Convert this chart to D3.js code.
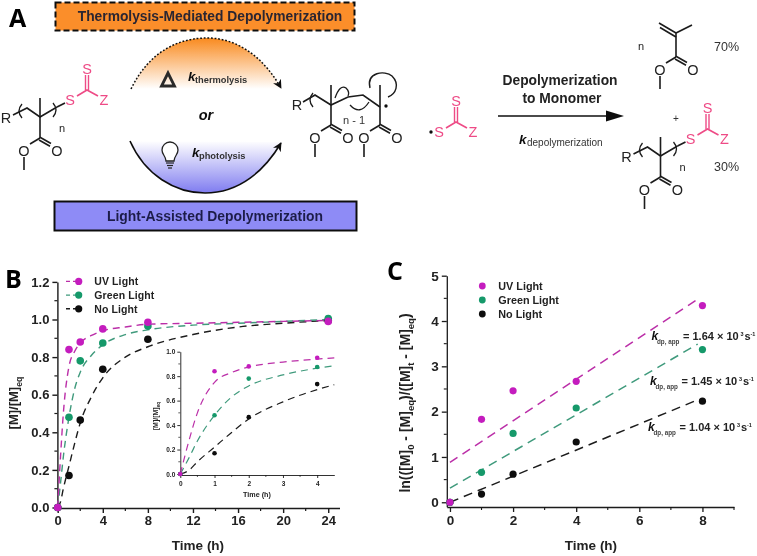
<!DOCTYPE html>
<html><head><meta charset="utf-8">
<script src="https://cdn.jsdelivr.net/npm/d3@7"></script>
<style>
html,body{margin:0;padding:0;background:#fff}
svg{display:block}
text{font-family:"Liberation Sans",Arial,sans-serif;fill:#222}
</style></head><body>
<svg id="c" width="757" height="556"></svg>
<script>
// ---- Data ----
const seriesNames = ["UV Light","Green Light","No Light"];
const seriesColors = ["#c41fbe","#13996b","#0b0b0b"];
const lineColors = ["#bb2fa8","#3f9a7c","#1c1c1c"];

const timeB = [0,1,2,4,8,24];
const uvB = [0,0.84,0.88,0.95,0.985,0.99];
const greenB = [0,0.48,0.78,0.875,0.965,1.005];
const noneB = [0,0.17,0.465,0.735,0.895,0.995];

const fitTime = [0,0.25,0.5,1,1.5,2,3,4,6,8,12,16,20,24];
const fitUv = [0,0.27,0.5,0.75,0.83,0.875,0.915,0.94,0.96,0.975,0.98,0.985,0.99,0.995];
const fitGreen = [0,0.13,0.27,0.48,0.63,0.72,0.81,0.865,0.92,0.945,0.97,0.98,0.99,1.0];
const fitNone = [0,0.03,0.1,0.22,0.34,0.45,0.59,0.69,0.8,0.855,0.92,0.96,0.98,0.995];

const insetTime = [0,1,2,4];
const insetFitTime = [0,0.25,0.5,1,1.5,2,3,4,4.5];
const insetFitUv = [0,0.27,0.5,0.75,0.83,0.875,0.915,0.94,0.95];
const insetFitGreen = [0,0.13,0.27,0.48,0.63,0.72,0.81,0.865,0.885];
const insetFitNone = [0,0.03,0.1,0.22,0.34,0.45,0.59,0.69,0.73];
const ticksB = [0,4,8,12,16,20,24];
const ticksBY = [0,0.2,0.4,0.6,0.8,1.0,1.2];
const ticksInsetX = [0,1,2,3,4];
const ticksInsetY = [0,0.2,0.4,0.6,0.8,1.0];

const timeC = [0,1,2,4,8];
const uvC = [0,1.83,2.46,2.67,4.34];
const greenC = [0,0.66,1.52,2.08,3.37];
const noneC = [0,0.18,0.62,1.33,2.23];
const fitTimeC = [0,7.85];
const fitUvC = [0.88,4.48];
const fitGreenC = [0.31,3.49];
const fitNoneC = [0,2.26];
const ticksCX = [0,2,4,6,8];
const ticksCY = [0,1,2,3,4,5];
const rateLabels = ["= 1.64 × 10","= 1.45 × 10","= 1.04 × 10"];

// ---- Setup ----
const svg = d3.select("#c");
const defs = svg.append("defs");
const blur = defs.append("filter").attr("id","soft").attr("x",0).attr("y",0).attr("width","100%").attr("height","100%");
blur.append("feGaussianBlur").attr("stdDeviation",0.42);
const gradO = defs.append("linearGradient").attr("id","go").attr("x1",0).attr("x2",0).attr("y1",0).attr("y2",1);
gradO.append("stop").attr("offset","0%").attr("stop-color","#f98a1e");
gradO.append("stop").attr("offset","100%").attr("stop-color","#ffffff");
const gradP = defs.append("linearGradient").attr("id","gp").attr("x1",0).attr("x2",0).attr("y1",0).attr("y2",1);
gradP.append("stop").attr("offset","0%").attr("stop-color","#ffffff");
gradP.append("stop").attr("offset","100%").attr("stop-color","#7f7cf0");
defs.append("marker").attr("id","ah").attr("viewBox","0 0 10 10").attr("refX",9).attr("refY",5)
  .attr("markerWidth",9).attr("markerHeight",9).attr("markerUnits","userSpaceOnUse").attr("orient","auto")
  .append("path").attr("d","M0,0L10,5L0,10L3,5Z").attr("fill","#111");
const root = svg.append("g").attr("filter","url(#soft)");
root.append("rect").attr("width",757).attr("height",556).attr("fill","#fff");

function txt(p,x,y,s,o={}){
  const t=p.append("text").attr("x",x).attr("y",y).text(s)
    .attr("font-size",o.size||13).attr("font-weight",o.weight||"normal");
  if(o.anchor)t.attr("text-anchor",o.anchor);
  if(o.style)t.attr("font-style",o.style);
  if(o.fill)t.style("fill",o.fill);
  if(o.family)t.style("font-family",o.family);
  return t;
}
function seg(p,pts,col="#1a1a1a",w=1.6){
  return p.append("path").attr("d",d3.line()(pts)).attr("fill","none").attr("stroke",col).attr("stroke-width",w);
}

// ---- Panel letters ----
const letter={size:25,weight:"bold",fill:"#000",family:"'Open Sans','Liberation Sans',sans-serif"};
txt(root,9,27,"A",letter);
txt(root,5,288,"B",letter);
txt(root,387,280,"C",letter);

// ---- Scheme ----
const sch=root.append("g");
sch.append("rect").attr("x",55.5).attr("y",2.5).attr("width",299).attr("height",28)
  .attr("fill","#fb8e2c").attr("stroke","#111").attr("stroke-width",2).attr("stroke-dasharray","6,3");
txt(sch,210,20.5,"Thermolysis-Mediated Depolymerization",{size:13.8,weight:"bold",anchor:"middle",fill:"#2b2530"});
sch.append("rect").attr("x",54.5).attr("y",201.5).attr("width",302).attr("height",29)
  .attr("fill","#8e8bf6").attr("stroke","#111").attr("stroke-width",2);
txt(sch,215,221,"Light-Assisted Depolymerization",{size:13.9,weight:"bold",anchor:"middle",fill:"#1f1f4a"});

sch.append("path").attr("d","M131,89C150,50 180,38 207,38C240,38 265,60 282,89Z").attr("fill","url(#go)");
sch.append("path").attr("d","M131,89C150,50 180,38 207,38C240,38 265,60 281,88")
  .attr("fill","none").attr("stroke","#111").attr("stroke-width",1.5).attr("stroke-dasharray","1.8,1.8").attr("marker-end","url(#ah)");
sch.append("path").attr("d","M130,141C145,175 175,193 205,193C240,193 265,170 282,142Z").attr("fill","url(#gp)");
sch.append("path").attr("d","M130,141C145,175 175,193 205,193C240,193 265,170 281,143")
  .attr("fill","none").attr("stroke","#111").attr("stroke-width",1.6).attr("marker-end","url(#ah)");

sch.append("path").attr("d","M168,73L161.5,86H174.5Z").attr("fill","none").attr("stroke","#2a2a2a").attr("stroke-width",2.8);
function kLabel(x,y,sub,size){
  txt(sch,x,y,"k",{size:13.5,weight:"bold",style:"italic",fill:"#111"});
  txt(sch,x+7,y+2,sub,{size:size||9,weight:"bold",fill:"#333"});
}
kLabel(188,81,"thermolysis",9.3);
kLabel(192,157,"photolysis",9.3);
txt(sch,206,120,"or",{size:14.5,weight:"bold",style:"italic",anchor:"middle",fill:"#111"});
// light bulb
sch.append("path").attr("d","M166,161C166,156 162,155 162,150A8,8 0 1 1 178,150C178,155 174,156 174,161Z")
  .attr("fill","#fff").attr("stroke","#222").attr("stroke-width",1.3);
[163,165.5,168].forEach((y,i)=>seg(sch,[[166+i,y],[174-i,y]],"#222",1.2));

const pink="#ee4b86";
function atom(x,y,s,col,size){
  txt(sch,x,y+5,s,{size:size||14.5,anchor:"middle",fill:col||"#222"});
}
function ester(cx,cy){ // carbonyl carbon at cx,cy
  seg(sch,[[cx,cy],[cx-10,cy+6]]);
  seg(sch,[[cx,cy-0.8],[cx+11,cy+5.5]]);
  seg(sch,[[cx-1,cy+2],[cx+10,cy+8.2]]);
  atom(cx-16,cy+12.5,"O");
  atom(cx+17,cy+12.5,"O");
  seg(sch,[[cx-16,cy+19],[cx-16,cy+32]]);
}
function paren(x,y,flip){
  const f=flip?-1:1;
  sch.append("path").attr("d",`M${x+3*f},${y-7}Q${x-3*f},${y} ${x+3*f},${y+7}`).attr("fill","none").attr("stroke","#1a1a1a").attr("stroke-width",1.3);
}
function raft(cx,cy){
  atom(cx-34,cy+1,"R");
  seg(sch,[[cx-27,cy-2],[cx-13,cy-9],[cx,cy],[cx+17,cy-10]]);
  seg(sch,[[cx,cy],[cx,cy-19]]);
  seg(sch,[[cx,cy],[cx,cy+21]]);
  paren(cx-21,cy-6,false);
  paren(cx+16,cy-7,true);
  atom(cx+22,cy+10,"n",null,11);
  ester(cx,cy+21);
  seg(sch,[[cx+17,cy-10],[cx+25,cy-14]]);
  tcZ(cx+30,cy-17);
}
function tcZ(sx,sy){ // S atom centre
  atom(sx,sy,"S",pink);
  seg(sch,[[sx+7,sy-4],[sx+17,sy-10],[sx+28,sy-4]],pink,1.6);
  seg(sch,[[sx+15.5,sy-10],[sx+15.5,sy-25]],pink,1.4);
  seg(sch,[[sx+18.5,sy-10],[sx+18.5,sy-25]],pink,1.4);
  atom(sx+17,sy-31,"S",pink);
  atom(sx+34,sy,"Z",pink);
}
raft(40,117);
raft(660.5,156);

// intermediate radical
atom(297,105,"R");
seg(sch,[[303,102],[315,95],[331,105],[348,97],[363,95],[380,107]]);
seg(sch,[[331,105],[331,85]]);seg(sch,[[380,107],[380,85]]);
seg(sch,[[331,105],[331,125]]);seg(sch,[[380,107],[380,125]]);
paren(310,100,false);
ester(331,125);
ester(380,125);
sch.append("path").attr("d","M335,98Q340,84 346,88Q350,92 348,96").attr("fill","none").attr("stroke","#1a1a1a").attr("stroke-width",1.3);
sch.append("path").attr("d","M350,105Q360,116 369,102").attr("fill","none").attr("stroke","#1a1a1a").attr("stroke-width",1.3);
sch.append("path").attr("d","M370,88C366,72 385,70 392,76C400,84 396,94 388,97").attr("fill","none").attr("stroke","#1a1a1a").attr("stroke-width",1.4);
txt(sch,354,124,"n - 1",{size:11,anchor:"middle",fill:"#333"});
sch.append("circle").attr("cx",386).attr("cy",106).attr("r",1.7).attr("fill","#111");
sch.append("circle").attr("cx",431).attr("cy",132).attr("r",1.7).attr("fill","#111");
tcZ(439,132);

// arrow to monomer
sch.append("path").attr("d","M498,116H610").attr("stroke","#111").attr("stroke-width",1.6);
sch.append("path").attr("d","M606,110.5L624,116L606,121.5Z").attr("fill","#111");
txt(sch,560,85,"Depolymerization",{size:13.8,weight:"bold",anchor:"middle",fill:"#222"});
txt(sch,562,103,"to Monomer",{size:13.8,weight:"bold",anchor:"middle",fill:"#222"});
txt(sch,519,144,"k",{size:13.5,weight:"bold",style:"italic",fill:"#111"});
txt(sch,527,146,"depolymerization",{size:10,fill:"#333"});

// monomer
seg(sch,[[659,23],[676,33]]);seg(sch,[[660,27.5],[676,37]]);
seg(sch,[[676,33],[692,25]]);
seg(sch,[[676,33],[676,57]]);
ester(676,57);
atom(641,45,"n",null,11);
txt(sch,726.5,51,"70%",{size:12.5,anchor:"middle",fill:"#333"});
txt(sch,676,122,"+",{size:10,anchor:"middle",fill:"#333"});
txt(sch,726.5,171,"30%",{size:12.5,anchor:"middle",fill:"#333"});

// ---- Shared plotting helpers ----
const lineGen=(x,y)=>d3.line().x(d=>x(d[0])).y(d=>y(d[1]));
function styleAxis(g,w){
  g.select(".domain").attr("stroke","#1a1a1a").attr("stroke-width",w);
  g.selectAll(".tick line").attr("stroke","#1a1a1a").attr("stroke-width",w);
}
function minorTicks(p,scale,values,horizontal,pos,len,w){
  p.selectAll(null).data(values).join("line")
   .attr("x1",d=>horizontal?scale(d):pos).attr("x2",d=>horizontal?scale(d):pos-len)
   .attr("y1",d=>horizontal?pos:scale(d)).attr("y2",d=>horizontal?pos+len:scale(d))
   .attr("stroke","#1a1a1a").attr("stroke-width",w);
}
function xAxis(p,x,y0,vals,fs,tick,w,pad,fmt){
  const g=p.append("g").attr("transform",`translate(0,${y0})`)
   .call(d3.axisBottom(x).tickValues(vals).tickSize(tick).tickSizeOuter(0).tickPadding(pad).tickFormat(fmt||d3.format("d")));
  styleAxis(g,w);
  g.selectAll("text").attr("font-size",fs).attr("font-weight","bold").style("font-family","'Liberation Sans',sans-serif");
}
function yAxis(p,y,x0,vals,fs,tick,w,pad,fmt){
  const g=p.append("g").attr("transform",`translate(${x0},0)`)
   .call(d3.axisLeft(y).tickValues(vals).tickSize(tick).tickSizeOuter(0).tickPadding(pad).tickFormat(fmt));
  styleAxis(g,w);
  g.selectAll("text").attr("font-size",fs).attr("font-weight","bold").style("font-family","'Liberation Sans',sans-serif");
}
function dots(p,x,y,times,vals,col,r){
  p.selectAll(null).data(d3.zip(times,vals)).join("circle")
   .attr("cx",d=>x(d[0])).attr("cy",d=>y(d[1])).attr("r",r).attr("fill",col);
}
function dashed(p,x,y,times,vals,col,w,dash,curve){
  const g=lineGen(x,y); if(curve)g.curve(curve);
  p.append("path").attr("d",g(d3.zip(times,vals))).attr("fill","none")
   .attr("stroke",col).attr("stroke-width",w).attr("stroke-dasharray",dash);
}
function rotLabel(p,x,y,parts,size){
  const t=p.append("text").attr("transform",`translate(${x},${y}) rotate(-90)`)
    .attr("text-anchor","middle").attr("font-size",size).attr("font-weight","bold");
  parts.forEach(([s,sub])=>{
    t.append("tspan").text(s).attr("dy",sub?size*0.28:(t.node().childNodes.length?-size*0.28:0))
     .attr("font-size",sub?size*0.68:size);
  });
}

// ---- Panel B ----
const bg=root.append("g");
const xB=d3.scaleLinear().domain([0,25]).range([57.7,339.5]);
const yB=d3.scaleLinear().domain([0,1.2]).range([507.5,281.9]);
xAxis(bg,xB,508,ticksB,13,5,1.4,3);
yAxis(bg,yB,57.4,ticksBY,13,5,1.4,3,d3.format(".1f"));
minorTicks(bg,xB,[2,6,10,14,18,22],true,508,3,1.2);
minorTicks(bg,yB,[0.1,0.3,0.5,0.7,0.9,1.1],false,57.4,3,1.2);
txt(bg,198,550,"Time (h)",{size:13.5,weight:"bold",anchor:"middle"});
rotLabel(bg,22,403,[["[M]/[M]"],["eq",true]],13);
[fitNone,fitGreen,fitUv].forEach((f,i)=>dashed(bg,xB,yB,fitTime,f,lineColors[2-i],1.4,"7,5",d3.curveMonotoneX));
[noneB,greenB,uvB].forEach((v,i)=>dots(bg,xB,yB,timeB,v,seriesColors[2-i],3.8));
seriesNames.forEach((n,i)=>{
  const ly=281.4+i*13.7;
  bg.append("line").attr("x1",66).attr("x2",77).attr("y1",ly).attr("y2",ly).attr("stroke",lineColors[i]).attr("stroke-width",1.4).attr("stroke-dasharray","4,3");
  bg.append("circle").attr("cx",78.7).attr("cy",ly).attr("r",3.6).attr("fill",seriesColors[i]);
  txt(bg,94.3,ly+3.7,n,{size:10.5,weight:"bold"}).style("letter-spacing","0.1px");
});

// ---- Inset ----
const ig=root.append("g");
const xI=d3.scaleLinear().domain([0,4.5]).range([180.3,334.3]);
const yI=d3.scaleLinear().domain([0,1]).range([474,351.7]);
xAxis(ig,xI,475,ticksInsetX,6.5,3,0.9,3);
yAxis(ig,yI,180.3,ticksInsetY,6.5,3,0.9,2,d3.format(".1f"));
minorTicks(ig,xI,[0.5,1.5,2.5,3.5],true,475,2,0.7);
minorTicks(ig,yI,[0.1,0.3,0.5,0.7,0.9],false,180.3,2,0.7);
txt(ig,257,497,"Time (h)",{size:7.2,weight:"bold",anchor:"middle"});
rotLabel(ig,160,416,[["[M]/[M]"],["eq",true]],7);
[insetFitNone,insetFitGreen,insetFitUv].forEach((f,i)=>dashed(ig,xI,yI,insetFitTime,f,lineColors[2-i],1.2,"7,5",d3.curveMonotoneX));
[noneB,greenB,uvB].forEach((v,i)=>dots(ig,xI,yI,insetTime,v.slice(0,4),seriesColors[2-i],2.3));

// ---- Panel C ----
const cg=root.append("g");
const xC=d3.scaleLinear().domain([-0.1,9]).range([446.8,734]);
const yC=d3.scaleLinear().domain([-0.1,5]).range([506.8,275.7]);
xAxis(cg,xC,507,ticksCX,13.5,5,1.3,3);
yAxis(cg,yC,446.8,ticksCY,13.5,5,1.3,3,d3.format("d"));
minorTicks(cg,xC,[1,3,5,7,9],true,507,3,1.1);
minorTicks(cg,yC,[0.5,1.5,2.5,3.5,4.5],false,446.8,3,1.1);
txt(cg,591,550,"Time (h)",{size:13.5,weight:"bold",anchor:"middle"});
rotLabel(cg,414,403,[["ln(([M]"],["0",true],[" - [M]"],["eq",true],[")/([M]"],["t",true],[" - [M]"],["eq",true],[")"]],14);
[fitNoneC,fitGreenC,fitUvC].forEach((f,i)=>dashed(cg,xC,yC,fitTimeC,f,lineColors[2-i],1.5,"9,6"));
[noneC,greenC,uvC].forEach((v,i)=>dots(cg,xC,yC,timeC,v,seriesColors[2-i],3.6));
seriesNames.forEach((n,i)=>{
  const ly=286+i*14;
  cg.append("circle").attr("cx",482.3).attr("cy",ly).attr("r",3.4).attr("fill",seriesColors[i]);
  txt(cg,498.3,ly+3.8,n,{size:10.8,weight:"bold"});
});
rateLabels.forEach((s,i)=>{
  const kx=[651.5,650,648][i], by=[340,385,431][i];
  txt(cg,kx,by,"k",{size:12,weight:"bold",style:"italic",fill:"#111"});
  txt(cg,kx+5.5,by+4,"dp, app",{size:6.3,weight:"bold",fill:"#444"});
  txt(cg,kx+31.5,by,s,{size:11,weight:"bold"});
  txt(cg,kx+89,by-4,"3",{size:5.5,weight:"bold"});
  txt(cg,kx+93,by,"s",{size:11,weight:"bold"});
  txt(cg,kx+99,by-4,"-1",{size:5.5,weight:"bold"});
});
</script>
</body></html>
